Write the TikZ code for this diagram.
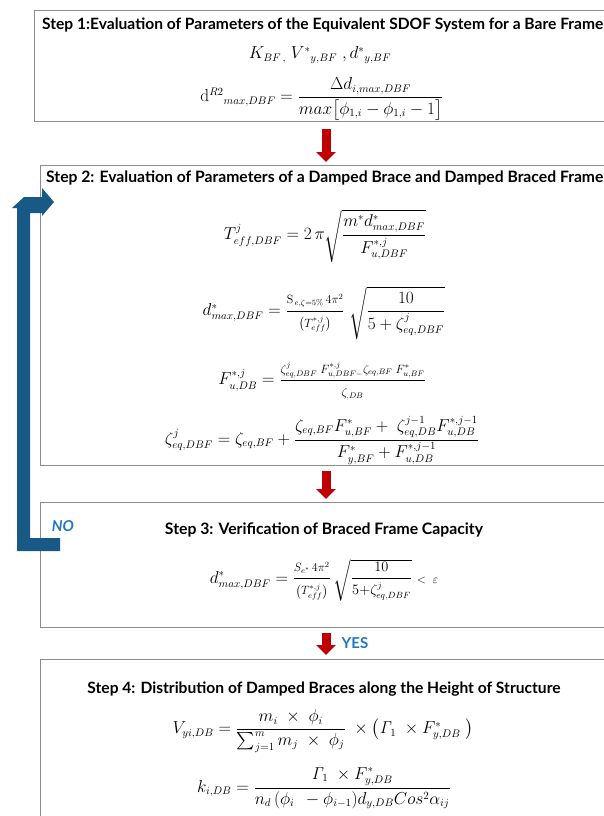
\documentclass[tikz,border=0pt]{standalone}
\usepackage{amsmath}
\usepackage[no-math]{fontspec}
\newfontfamily\ttlfont{Lato}
\usetikzlibrary{calc,arrows.meta}
\definecolor{boxgray}{HTML}{8C8C8C}
\definecolor{loopblue}{HTML}{185A85}
\definecolor{lblblue}{HTML}{2277C0}
\definecolor{arrred}{HTML}{BE0000}
\newcommand{\fitw}[2]{\resizebox{#1}{!}{#2}}
\newcommand{\smallm}[1]{\mbox{\fontsize{12}{14}\selectfont$#1$}}
\newcommand{\midm}[1]{\mbox{\fontsize{13.5}{16}\selectfont$#1$}}
\tikzset{
  stepbox/.style={draw=boxgray, line width=1.3pt, fill=none, inner sep=0pt},
  ttl/.style={font=\ttlfont\bfseries\fontsize{14}{17}\selectfont, inner sep=0pt},
  eq/.style={font=\fontsize{16}{19}\selectfont, inner sep=0pt},
  lbl/.style={font=\ttlfont\bfseries\fontsize{15}{18}\selectfont, text=lblblue, inner sep=0pt},
  redarr/.style={draw=arrred, line width=9pt, -{Triangle[width=19pt,length=10pt]}}
}
\begin{document}
\begin{tikzpicture}[x=1pt,y=-1pt]
\useasboundingbox (0,0) rectangle (604,816);
\clip (0,0) rectangle (604,816);
\fill[white] (0,0) rectangle (604,816);
% boxes
\node[stepbox, anchor=north west, minimum width=640pt, minimum height=111pt] (b1) at (34,10) {};
\node[stepbox, anchor=north west, minimum width=640pt, minimum height=300pt] (b2) at (40,165) {};
\node[stepbox, anchor=north west, minimum width=640pt, minimum height=125pt] (b3) at (40,502) {};
\node[stepbox, anchor=north west, minimum width=640pt, minimum height=200pt] (b4) at (40,659) {};
% titles
\node[ttl, anchor=west] (t1) at (42,25) {\fitw{561pt}{Step 1:Evaluation of Parameters of the Equivalent SDOF System for a Bare Frame}};
\node[ttl, anchor=west] (t2) at (46,178) {\fitw{557pt}{Step 2: Evaluation of Parameters of a Damped Brace and Damped Braced Frame}};
\node[ttl] (t3) at (324,530) {\fitw{318pt}{Step 3: Verification of Braced Frame Capacity}};
\node[ttl] (t4) at (324,689) {\fitw{473pt}{Step 4: Distribution of Damped Braces along the Height of Structure}};
% step 1 formulas
\node[eq] (e1) at (320,55) {$K_{BF\,,}\;V^{*}{}_{y,BF}\;{,}\,d^{*}{}_{y,BF}$};
\node[eq] (e2) at (322,99) {$\mathrm{d}^{R2}{}_{max,DBF}=\dfrac{\Delta d_{i,max,DBF}}{max\bigl[\phi_{1,i}-\phi_{1,i}-1\bigr]}$};
% step 2 formulas
\node[eq] (e3) at (325,236) {$T^{j}_{eff,DBF}=2\,\pi\sqrt{\dfrac{m^{*}d^{*}_{max,DBF}}{F^{*,j}_{u,DBF}}}$};
\node[eq] (e4) at (324,313) {$d^{*}_{max,DBF}=\dfrac{\smallm{\mathrm{S}_{\,e,\zeta=5\%}\,4\pi^{2}}}{\smallm{\left(T^{*,j}_{eff}\right)}}\;\sqrt{\dfrac{10}{5+\zeta^{j}_{eq,DBF}}}$};
\node[eq] (e5) at (322,381) {$F^{*,j}_{u,DB}=\dfrac{\smallm{\zeta^{j}_{eq,DBF}\;F^{*,j}_{u,DBF-}\zeta_{eq,BF}\;F^{*}_{u,BF}}}{\smallm{\zeta_{,DB}}}$};
\node[eq] (e6) at (322,440) {$\zeta^{j}_{eq,DBF}=\zeta_{eq,BF}+\dfrac{\zeta_{eq,BF}F^{*}_{u,BF}+\;\zeta^{j-1}_{eq,DB}F^{*,j-1}_{u,DB}}{F^{*}_{y,BF}+F^{*,j-1}_{u,DB}}$};
% step 3
\node[eq] (e7) at (324,580) {$d^{*}_{max,DBF}=\dfrac{\smallm{S_{e^{*}}\,4\pi^{2}}}{\smallm{\left(T^{*,j}_{eff}\right)}}\,\sqrt{\dfrac{\midm{10}}{\midm{5{+}\zeta^{j}_{eq,DBF}}}}\;\smallm{<\;\varepsilon}$};
\node[lbl, font=\ttlfont\bfseries\itshape\fontsize{15}{18}\selectfont] (no) at (63,526) {NO};
% step 4
\node[eq] (e8) at (323,731) {$V_{yi,DB}=\dfrac{m_{i}\ \times\ \phi_{i}}{\sum_{j=1}^{m}m_{j}\ \times\ \phi_{j}}\ \times\bigl(\mathit{\Gamma}_{1}\ \times F^{*}_{y,DB}\ \bigr)$};
\node[eq] (e9) at (324,788) {$k_{i,DB}=\dfrac{\mathit{\Gamma}_{1}\ \times F^{*}_{y,DB}}{n_{d}\,(\phi_{i}\ \,-\phi_{i-1})d_{y,DB}Cos^{2}\alpha_{ij}}$};
% red arrows
\coordinate (ax) at (326,0);
\draw[redarr, shorten <=7pt, shorten >=3pt] (b1.south -| ax) -- (b2.north -| ax);
\draw[redarr, shorten <=5pt, shorten >=3pt] (b2.south -| ax) -- (b3.north -| ax);
\draw[redarr, shorten <=5pt, shorten >=4pt] (b3.south -| ax) -- (b4.north -| ax);
\node[lbl] (yes) at (355,643) {YES};
% blue loop arrow
\fill[loopblue] (17,551) -- (60,551) -- (60,538) -- (30,538) -- (30,213) -- (42,213) -- (42,216) -- (54,202) -- (42,188) -- (42,197) -- (24,197) -- (12,208) -- (17,208) -- cycle;
\end{tikzpicture}
\end{document}
